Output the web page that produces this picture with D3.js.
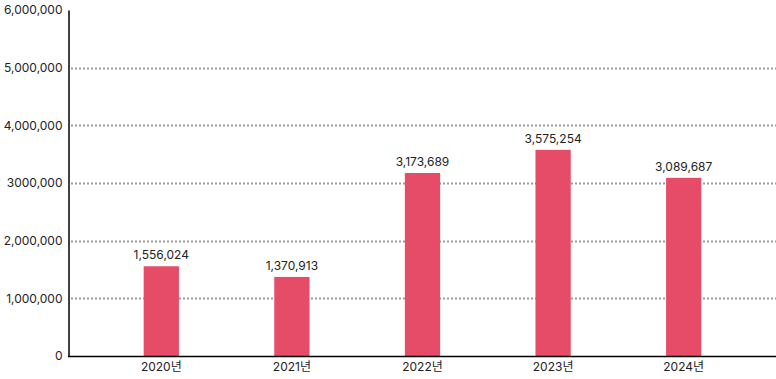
<!DOCTYPE html>
<html>
<head>
<meta charset="utf-8">
<script src="https://cdn.jsdelivr.net/npm/d3@7/dist/d3.min.js"></script>
<style>
  body { margin: 0; background: #fff; }
  text { font-family: Inter, "Noto Sans CJK KR", sans-serif; fill: #222; }
</style>
</head>
<body>
<div id="chart"></div>
<script>
// chart values
const years = ["2020년", "2021년", "2022년", "2023년", "2024년"];
const visitors = [1556024, 1370913, 3173689, 3575254, 3089687];
const valueLabels = ["1,556,024", "1,370,913", "3,173,689", "3,575,254", "3,089,687"];
const yTicks = [0, 1000000, 2000000, 3000000, 4000000, 5000000, 6000000];
const yTickLabels = ["0", "1,000,000", "2,000,000", "3000,000", "4,000,000", "5,000,000", "6,000,000"];

const width = 776;
const height = 379;

const svg = d3.select("#chart")
    .append("svg")
    .attr("width", width)
    .attr("height", height);

const x = d3.scaleBand()
    .domain(years)
    .range([96, 749])
    .paddingInner(0.73)
    .paddingOuter(0.365);

const y = d3.scaleLinear()
    .domain([0, 6000000])
    .range([356, 10]);

// dotted grid lines
svg.append("g")
    .selectAll("line")
    .data(yTicks.filter(d => d > 0 && d < 6000000))
    .enter().append("line")
    .attr("x1", 71)
    .attr("x2", width)
    .attr("y1", d => Math.round(y(d)) + 0.5)
    .attr("y2", d => Math.round(y(d)) + 0.5)
    .attr("stroke", "#9a9a9a")
    .attr("stroke-width", 2)
    .attr("stroke-dasharray", "2,2");

// bars
svg.append("g")
    .selectAll("rect")
    .data(years)
    .enter().append("rect")
    .attr("x", d => x(d))
    .attr("y", (d, i) => y(visitors[i]))
    .attr("width", x.bandwidth())
    .attr("height", (d, i) => y(0) - y(visitors[i]))
    .attr("fill", "#e64c68");

// value labels above bars
svg.append("g")
    .selectAll("text")
    .data(years)
    .enter().append("text")
    .attr("x", d => x(d) + x.bandwidth() / 2)
    .attr("y", (d, i) => y(visitors[i]) - 7)
    .attr("text-anchor", "middle")
    .style("font-size", "12px")
    .text((d, i) => valueLabels[i]);

// y axis
const yAxis = svg.append("g")
    .attr("transform", "translate(68.5,0)")
    .call(d3.axisLeft(y).tickValues(yTicks).tickSize(0).tickPadding(6)
        .tickFormat((d, i) => yTickLabels[i]));
yAxis.select(".domain").attr("stroke", "#000").attr("stroke-width", 1.5);
yAxis.selectAll("text").style("font-size", "12px").style("font-family", null);

// x axis
const xAxis = svg.append("g")
    .attr("transform", "translate(0,356.5)")
    .call(d3.axisBottom(x).tickSize(0).tickPadding(6));
xAxis.select(".domain").attr("d", `M68,0H${width}`).attr("stroke", "#000").attr("stroke-width", 1.5);
xAxis.selectAll("text").style("font-size", "12px").style("font-family", null);
</script>
</body>
</html>
